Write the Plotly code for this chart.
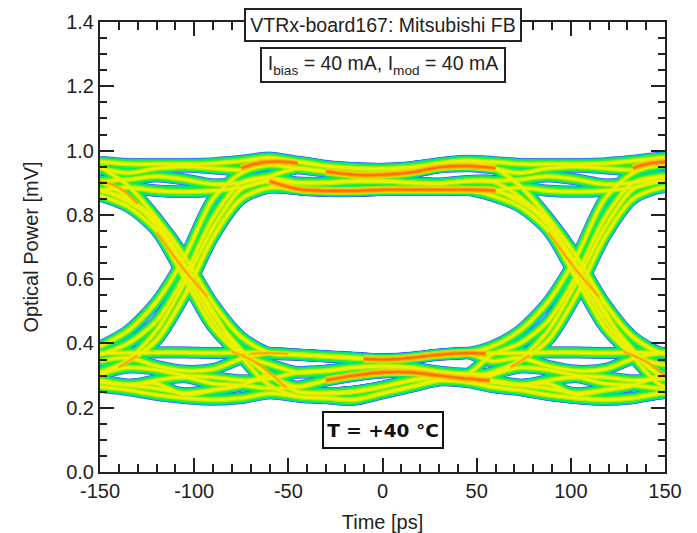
import plotly.graph_objects as go

# time grids of one unit interval (the eye repeats every 208 ps)
T_LEFT = [-150, -135, -120, -105, -90, -75, -60]
T_CENTER = [-45, -30, -15, 0, 15, 30, 45]
T_RIGHT = [58, 73, 88, 103, 118, 133, 148, 163]

# centre-of-eye levels, optical power [mV]
h1 = [.965, .952, .945, .943, .948, .960, .968]
h2 = [.945, .935, .925, .925, .932, .948, .952]
h3 = [.900, .900, .905, .905, .900, .897, .905]
h4 = [.880, .875, .875, .878, .878, .878, .878]
l1 = [.365, .360, .355, .350, .355, .365, .370]
l2 = [.310, .315, .325, .330, .325, .312, .305]
l3 = [.265, .285, .300, .310, .310, .300, .290]
l4 = [.250, .245, .250, .265, .285, .295, .290]
l5 = [.235, .230, .225, .245, .265, .285, .280]

# crossing-region paths
hh1 = [.965, .958, .958, .958, .960, .968, .978]
hh2 = [.945, .930, .945, .950, .945, .940, .955]
hh3 = [.905, .910, .920, .910, .895, .900, .915]
hh4 = [.875, .885, .875, .872, .875, .885, .905]
hl_a = [.860, .825, .750, .600, .450, .365, .335]
hl_b = [.950, .890, .790, .670, .525, .420, .370]
hl_c = [.905, .855, .765, .635, .490, .380, .300]
hl_d = [.875, .850, .780, .620, .470, .370, .300]
hl_e = [.880, .840, .775, .645, .500, .360, .270]
lh_a = [.390, .440, .530, .670, .850, .930, .960]
lh_b = [.310, .345, .410, .550, .730, .850, .885]
lh_c = [.365, .400, .470, .610, .790, .900, .920]
lh_d = [.300, .350, .440, .590, .760, .880, .905]
ll1 = [.370, .370, .372, .372, .370, .372, .370]
ll2 = [.345, .355, .330, .315, .320, .352, .370]
ll3 = [.305, .325, .318, .300, .295, .285, .290]
ll4 = [.285, .272, .275, .240, .255, .270, .300]
ll5 = [.265, .255, .240, .230, .225, .230, .245]
ll6 = [.280, .270, .260, .245, .255, .270, .300]
ll7 = [.280, .270, .285, .295, .275, .270, .260]

PATHS = [
    (hh1, h1, hh1), (lh_a, h1, hl_b), (hh2, h2, hh2), (lh_c, h2, hl_b),
    (hh3, h3, hh3), (lh_d, h3, hl_c), (hh4, h4, hh4), (lh_b, h4, hl_a),
    (hh4, h4, hl_d), (lh_b, h4, hl_e),
    (ll1, l1, ll1), (hl_b, l1, lh_a), (ll2, l1, ll2), (hl_a, l2, lh_c),
    (ll3, l2, ll3), (hl_c, l3, lh_d), (ll7, l3, ll7), (hl_d, l4, ll4),
    (ll4, l4, lh_b), (hl_e, l5, ll5), (ll5, l5, ll5), (ll6, l4, ll6),
]

# brightest ridges of the density: broad ones along the flat rails
HOT_WIDE = [
    ([-60, -45, -30, -15, 0, 15, 30, 45, 60], [.905, .880, .875, .875, .878, .878, .878, .878, .875]),
    ([-30, -15, 0, 15, 30, 45, 60], [.935, .925, .925, .932, .948, .952, .945]),
    ([-75, -68, -60, -52, -45], [.945, .958, .965, .965, .960]),
    ([133, 140, 150], [.945, .958, .965]),
    ([-10, 0, 15, 30, 45, 55], [.352, .350, .355, .365, .370, .368]),
    ([-30, -15, 0, 15, 30, 45, 57], [.285, .300, .310, .310, .300, .290, .285]),
]
# and thin ones along the edges
HOT_THIN = [
    ([-150, -140, -130], [.905, .885, .835]),
    ([-120, -106, -93], [.745, .635, .545]),
    ([88, 102, 115], [.745, .635, .545]),
    ([-140, -130], [.326, .363]),
    ([68, 78], [.326, .363]),
    ([-80, -67, -51], [.375, .340, .262]),
    ([128, 141, 150], [.375, .340, .300]),
    ([-70, -60, -50], [.368, .370, .368]),
]

X_TICKS = [-150, -100, -50, 0, 50, 100, 150]
X_LABELS = ["-150", "-100", "-50", "0", "50", "100", "150"]
Y_TICKS = [0, .2, .4, .6, .8, 1.0, 1.2, 1.4]
Y_LABELS = ["0.0", "0.2", "0.4", "0.6", "0.8", "1.0", "1.2", "1.4"]

LAYERS = [("#d8ccfa", 12.6), ("#3048f0", 11.8), ("#00c0f0", 10.8),
          ("#00e878", 9.8), ("#30f028", 7.6), ("#a8f000", 5), ("#eef000", 2.6)]

fig = go.Figure()
xs = T_LEFT + T_CENTER + T_RIGHT
for color, width in LAYERS:
    for a, c, b in PATHS:
        fig.add_trace(go.Scatter(x=xs, y=a + c + b + [b[-1]], mode="lines",
                                 line=dict(color=color, width=width, shape="spline", smoothing=0.8),
                                 hoverinfo="skip", showlegend=False))


def ridge(hx, hy, color, width, alpha):
    fig.add_trace(go.Scatter(x=hx, y=hy, mode="lines", opacity=alpha,
                             line=dict(color=color, width=width, shape="spline"),
                             hoverinfo="skip", showlegend=False))


for hx, hy in HOT_WIDE:
    ridge(hx, hy, "#f8e000", 8, .7)
    ridge(hx, hy, "#ffc000", 5.5, .8)
    ridge(hx, hy, "#ff8c00", 3.6, .85)
    ridge(hx, hy, "#ff5a00", 1.6, .7)
for hx, hy in HOT_THIN:
    ridge(hx, hy, "#ffc800", 3.2, .7)
    ridge(hx, hy, "#ff9000", 1.6, .75)

INK = "#222222"
FONT = "Liberation Sans"
fig.update_layout(
    width=697, height=533, autosize=False,
    margin=dict(l=100, r=32, t=22, b=61),
    paper_bgcolor="white", plot_bgcolor="white",
    font=dict(family=FONT, size=19, color=INK), showlegend=False,
    xaxis=dict(range=[-150, 150], tickmode="array", tickvals=X_TICKS, ticktext=X_LABELS, automargin=False,
               ticks="inside", ticklen=14, tickwidth=2, tickcolor=INK,
               showline=True, linewidth=2, linecolor=INK, mirror="allticks", showgrid=False, zeroline=False,
               minor=dict(tick0=-150, dtick=10, ticks="inside", ticklen=8, tickwidth=2, tickcolor=INK),
               tickfont=dict(size=20), title=dict(text="Time [ps]", font=dict(size=20))),
    yaxis=dict(range=[0, 1.4], tickmode="array", tickvals=Y_TICKS, ticktext=Y_LABELS, automargin=False,
               ticks="inside", ticklen=14, tickwidth=2, tickcolor=INK,
               showline=True, linewidth=2, linecolor=INK, mirror="allticks", showgrid=False, zeroline=False,
               minor=dict(tick0=0, dtick=.05, ticks="inside", ticklen=7, tickwidth=2, tickcolor=INK),
               tickfont=dict(size=20), title=dict(text="Optical Power [mV]", font=dict(size=20), standoff=22)),
    annotations=[
        dict(x=0, y=1.392, xref="x", yref="y", text="VTRx-board167: Mitsubishi FB", showarrow=False,
             width=272, height=28, bgcolor="white", bordercolor=INK, borderwidth=2, font=dict(size=19.5)),
        dict(x=0, y=1.267, xref="x", yref="y", text="I<sub>bias</sub> = 40 mA, I<sub>mod</sub> = 40 mA", showarrow=False,
             width=240, height=30, bgcolor="white", bordercolor=INK, borderwidth=2, font=dict(size=19.5)),
        dict(x=0, y=.13, xref="x", yref="y", text="<b>T = +40 °C</b>", showarrow=False,
             width=116, height=32, bgcolor="white", bordercolor="#111111", borderwidth=2,
             font=dict(size=18.5, family="DejaVu Sans", color="#111111")),
    ],
)
fig.write_html("out.html", post_script="document.body.style.margin='0';", config=dict(displayModeBar=False))
